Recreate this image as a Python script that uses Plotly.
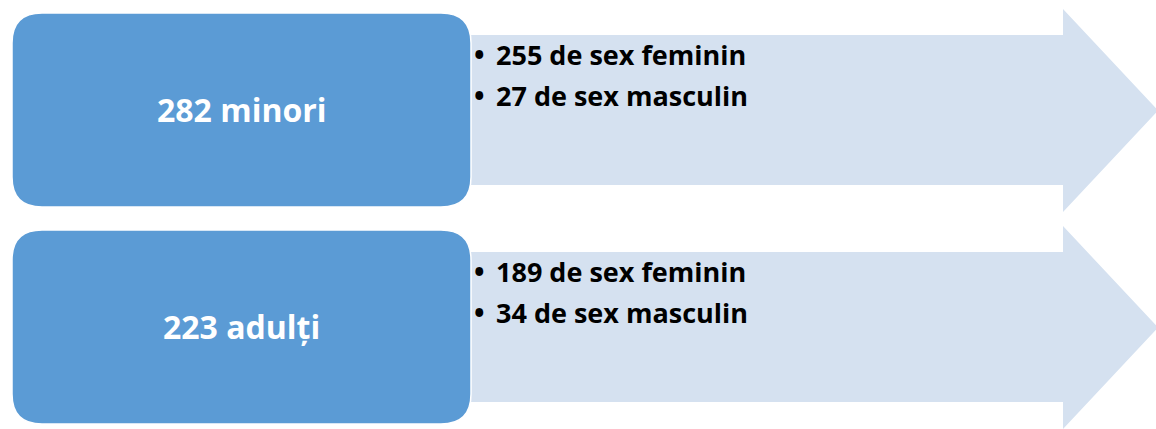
import plotly.graph_objects as go

# Data
groups = ["282 minori", "223 adulți"]
details = [
    ["255 de sex feminin", "27 de sex masculin"],
    ["189 de sex feminin", "34 de sex masculin"],
]

W, H = 1156, 429
BOX_FILL = "#5B9BD5"
ARROW_FILL = "#D5E1F0"
FONT = "Open Sans, sans-serif"

# layout geometry (pixels)
box_x0, box_x1 = 12, 471
box_tops = [13, 230]
box_h = 194
r = 30
body_off_top, body_off_bot = 22, 172   # body offsets relative to box top
head_x = 1063
tip_x = 1158
head_top_off, head_bot_off = -4, 199

fig = go.Figure()
shapes = []
annotations = []


def rounded_rect(x0, y0, x1, y1, r):
    return (f"M {x0+r},{y0} L {x1-r},{y0} Q {x1},{y0} {x1},{y0+r} "
            f"L {x1},{y1-r} Q {x1},{y1} {x1-r},{y1} L {x0+r},{y1} "
            f"Q {x0},{y1} {x0},{y1-r} L {x0},{y0+r} Q {x0},{y0} {x0+r},{y0} Z")


for i, (g, det) in enumerate(zip(groups, details)):
    top = box_tops[i]
    bt, bb = top + body_off_top, top + body_off_bot
    ht, hb = top + head_top_off, top + head_bot_off
    mid = (ht + hb) / 2
    arrow = (f"M {box_x1-10},{bt} L {head_x},{bt} L {head_x},{ht} L {tip_x},{mid} "
             f"L {head_x},{hb} L {head_x},{bb} L {box_x1-10},{bb} Z")
    shapes.append(dict(type="path", path=arrow, xref="x", yref="y",
                       fillcolor=ARROW_FILL, line=dict(width=0), layer="below"))
    shapes.append(dict(type="path", path=rounded_rect(box_x0, top, box_x1, top + box_h, r),
                       xref="x", yref="y", fillcolor=BOX_FILL,
                       line=dict(color="#FFFFFF", width=1.5), layer="below"))
    annotations.append(dict(x=(box_x0 + box_x1) / 2, y=top + box_h / 2 - 1, xref="x", yref="y",
                            text=f"<b>{g}</b>", showarrow=False,
                            font=dict(family=FONT, size=32, color="white"),
                            xanchor="center", yanchor="middle"))
    for j, d in enumerate(det):
        yy = top + 41 + j * 41
        annotations.append(dict(x=472, y=yy, xref="x", yref="y",
                                text="<b>•</b>", showarrow=False,
                                font=dict(family=FONT, size=28, color="black"),
                                xanchor="left", yanchor="middle"))
        annotations.append(dict(x=494, y=yy, xref="x", yref="y",
                                text=f"<b>{d}</b>", showarrow=False,
                                font=dict(family=FONT, size=27, color="black"),
                                xanchor="left", yanchor="middle"))

fig.update_layout(
    width=W, height=H,
    margin=dict(l=0, r=0, t=0, b=0),
    paper_bgcolor="white", plot_bgcolor="white",
    xaxis=dict(range=[0, W], visible=False, fixedrange=True),
    yaxis=dict(range=[H, 0], visible=False, fixedrange=True),
    shapes=shapes, annotations=annotations, showlegend=False,
)
fig.write_html("out.html", config={"displayModeBar": False},
               post_script="document.body.style.margin='0';document.body.style.overflow='hidden';")
